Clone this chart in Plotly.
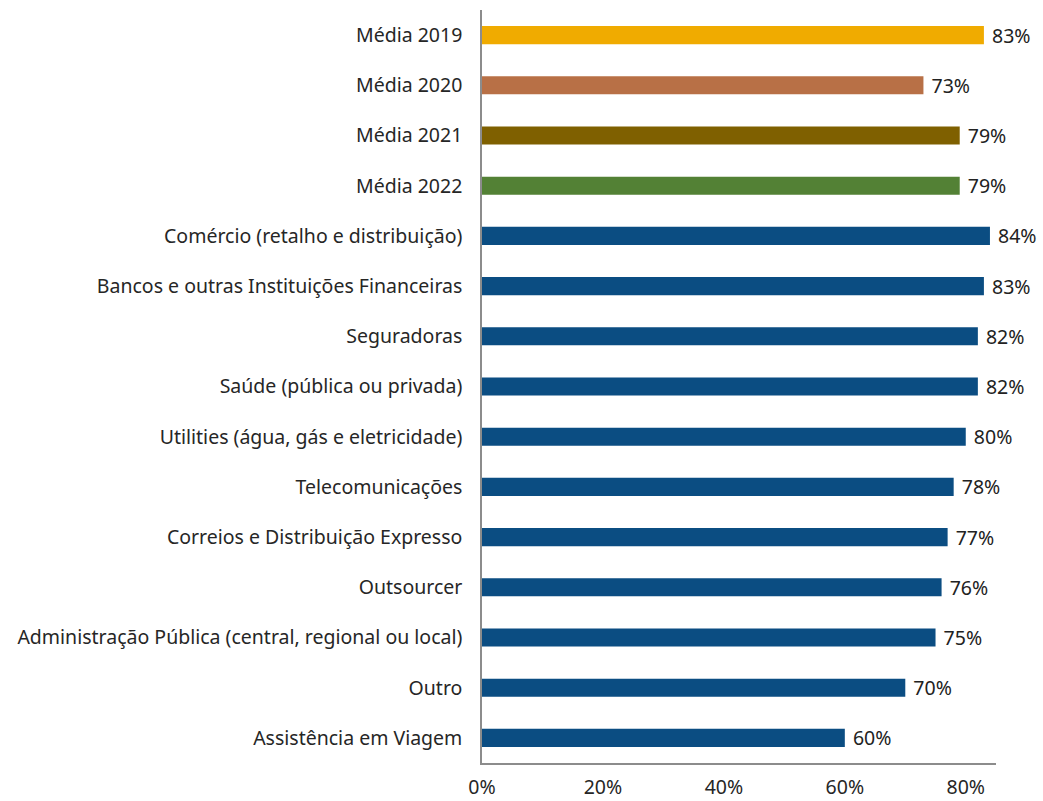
import plotly.graph_objects as go

# Categories (top to bottom) and their percentages
categories = [
    "Média 2019",
    "Média 2020",
    "Média 2021",
    "Média 2022",
    "Comércio (retalho e distribuição)",
    "Bancos e outras Instituições Financeiras",
    "Seguradoras",
    "Saúde (pública ou privada)",
    "Utilities (água, gás e eletricidade)",
    "Telecomunicações",
    "Correios e Distribuição Expresso",
    "Outsourcer",
    "Administração Pública (central, regional ou local)",
    "Outro",
    "Assistência em Viagem",
]
values = [83, 73, 79, 79, 84, 83, 82, 82, 80, 78, 77, 76, 75, 70, 60]

x_ticks = [0, 20, 40, 60, 80]
x_tick_labels = ["0%", "20%", "40%", "60%", "80%"]

year_colors = ["#F0AB00", "#B87046", "#7F6000", "#538135"]
sector_color = "#0B4D82"
colors = year_colors + [sector_color] * (len(categories) - len(year_colors))

FONT = "Noto Sans"
SIZE = 19.5

fig = go.Figure(
    go.Bar(
        x=values,
        y=categories,
        orientation="h",
        marker=dict(color=colors, line=dict(width=0)),
        width=0.36,
        text=[f" {v}%" for v in values],
        textposition="outside",
        constraintext="none",
        textfont=dict(size=SIZE, color="#222222", family=FONT),
        cliponaxis=False,
        hoverinfo="skip",
    )
)

fig.update_layout(
    width=1043,
    height=801,
    margin=dict(l=482, r=47, t=10, b=38),
    plot_bgcolor="white",
    paper_bgcolor="white",
    font=dict(family=FONT, size=SIZE, color="#262626"),
    showlegend=False,
    xaxis=dict(
        range=[0, 85],
        tickvals=x_ticks,
        ticktext=x_tick_labels,
        showgrid=False,
        zeroline=False,
        showline=True,
        linecolor="#8C8C8C",
        linewidth=1.5,
        ticks="",
        ticklabelstandoff=6,
        tickfont=dict(size=SIZE),
        automargin=False,
    ),
    yaxis=dict(
        categoryorder="array",
        categoryarray=categories,
        autorange="reversed",
        showgrid=False,
        zeroline=False,
        showline=True,
        linecolor="#8C8C8C",
        linewidth=1.5,
        ticks="",
        ticklabelstandoff=14,
        tickfont=dict(size=SIZE),
        automargin=False,
    ),
)

fig.write_html("out.html")
